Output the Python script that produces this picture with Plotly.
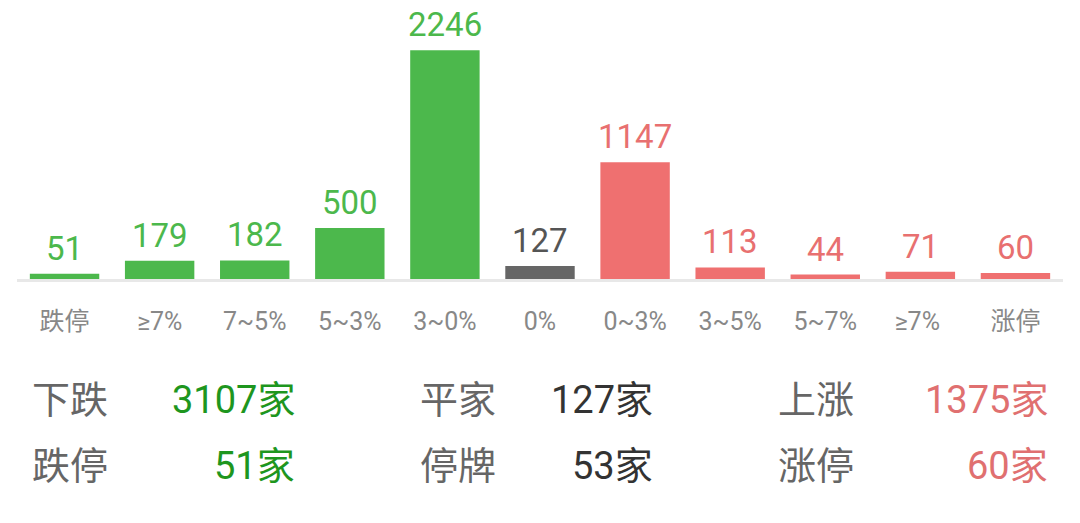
import plotly.graph_objects as go

# bucket labels and counts
categories = ["跌停", "≥7%", "7~5%", "5~3%", "3~0%", "0%", "0~3%", "3~5%", "5~7%", "≥7% ", "涨停"]
counts = [51, 179, 182, 500, 2246, 127, 1147, 113, 44, 71, 60]
bar_colors = ["#4cb84c"] * 5 + ["#666666"] + ["#ef7070"] * 5
label_colors = ["#4cb84c"] * 5 + ["#555555"] + ["#e87070"] * 5

# summary rows: label, value, colour
summary_labels = [["下跌", "平家", "上涨"], ["跌停", "停牌", "涨停"]]
summary_values = [["3107家", "127家", "1375家"], ["51家", "53家", "60家"]]
summary_colors = ["#1e961e", "#333333", "#e07070"]

fig = go.Figure()

fig.add_trace(go.Bar(x=categories, y=counts, marker_color=bar_colors,
                     marker_line_width=0, hoverinfo="x+y"))

annotations = []
# counts above the bars
for cat, val, col in zip(categories, counts, label_colors):
  annotations.append(dict(x=cat, y=val, xref="x", yref="y", text=str(val),
                          showarrow=False, yanchor="bottom", yshift=4,
                          font=dict(size=33, color=col)))

# summary table under the chart
label_x = [30, 418, 776]
value_x = [297, 655, 1050]
row_y = [400, 466]
for r in range(2):
  for c in range(3):
    annotations.append(dict(x=label_x[c] / 1080, y=1 - row_y[r] / 523, xref="paper", yref="paper",
                            text=summary_labels[r][c], showarrow=False,
                            xanchor="left", yanchor="middle",
                            font=dict(size=38, color="#666666")))
    annotations.append(dict(x=value_x[c] / 1080, y=1 - row_y[r] / 523, xref="paper", yref="paper",
                            text=summary_values[r][c], showarrow=False,
                            xanchor="right", yanchor="middle",
                            font=dict(size=38, color=summary_colors[c])))

fig.update_layout(
  width=1080, height=523,
  margin=dict(l=0, r=0, t=0, b=0),
  paper_bgcolor="white", plot_bgcolor="white",
  font=dict(family="Roboto, Noto Sans CJK SC, sans-serif"),
  bargap=0.27,
  showlegend=False,
  annotations=annotations,
  xaxis=dict(domain=[17 / 1080, 1063 / 1080], showline=True, linecolor="#e8e8e8",
             linewidth=3, showgrid=False, ticks="", ticklabelstandoff=18,
             tickfont=dict(size=25, color="#888888")),
  yaxis=dict(domain=[1 - 279 / 523, 1], range=[0, max(counts) * 1.22],
             visible=False, showgrid=False, zeroline=False),
)

# drop the default page margin so the figure sits at the window corner
fig.write_html("out.html", config={"displayModeBar": False},
               post_script="document.body.style.margin = '0';")
